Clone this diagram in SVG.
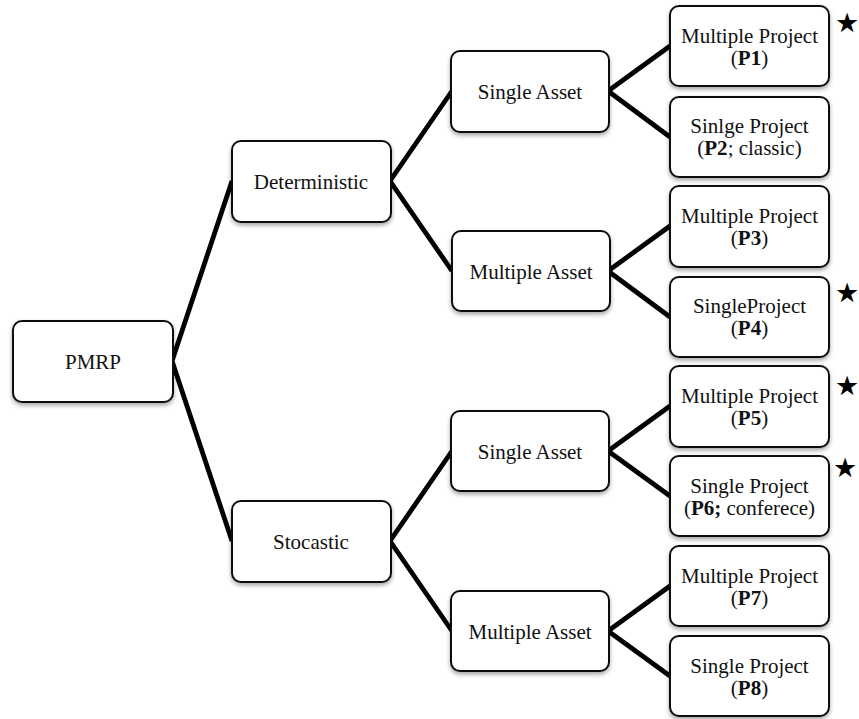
<svg xmlns="http://www.w3.org/2000/svg" width="859" height="719" viewBox="0 0 859 719" font-family="'Liberation Serif', 'Times New Roman', Times, 'DejaVu Serif', serif">
<defs>
<filter id="sh" x="-10%" y="-10%" width="120%" height="130%">
<feDropShadow dx="0" dy="2.5" stdDeviation="2" flood-color="#000" flood-opacity="0.35"/>
</filter>
<style>
.box{fill:#fff;stroke:#111;stroke-width:2;filter:url(#sh)}
.t{font-size:21px;fill:#111;text-anchor:middle}
.b{font-weight:bold}
.c{stroke:#000;stroke-width:4.8;fill:none;stroke-linejoin:miter;stroke-linecap:butt}
.star{font-family:"DejaVu Sans",sans-serif;font-size:27px;fill:#000;text-anchor:middle}
</style>
</defs>
<rect width="859" height="719" fill="#fff"/>
<g id="connectors">
<polyline class="c" points="232,181 172,361 232,541"/>
<polyline class="c" points="452,91 390,181 452,271"/>
<polyline class="c" points="452,451 390,541 452,631"/>
<polyline class="c" points="670,46 608,91 670,137"/>
<polyline class="c" points="670,226 608,271 670,317"/>
<polyline class="c" points="670,406 608,451 670,496"/>
<polyline class="c" points="670,586 608,631 670,676"/>
</g>
<g id="pmrp"><rect class="box" x="13" y="321" width="160" height="81" rx="9"/><text class="t" x="93" y="369">PMRP</text></g>
<g id="deterministic"><rect class="box" x="232" y="141" width="159" height="81" rx="9"/><text class="t" x="311" y="189">Deterministic</text></g>
<g id="stocastic"><rect class="box" x="232" y="501" width="159" height="81" rx="9"/><text class="t" x="311" y="549">Stocastic</text></g>
<g id="det-single-asset"><rect class="box" x="451" y="51" width="158" height="81" rx="9"/><text class="t" x="530" y="99">Single Asset</text></g>
<g id="det-multiple-asset"><rect class="box" x="452" y="231" width="158" height="80" rx="9"/><text class="t" x="531" y="279">Multiple Asset</text></g>
<g id="sto-single-asset"><rect class="box" x="451" y="411" width="158" height="80" rx="9"/><text class="t" x="530" y="459">Single Asset</text></g>
<g id="sto-multiple-asset"><rect class="box" x="451" y="591" width="158" height="80" rx="9"/><text class="t" x="530" y="639">Multiple Asset</text></g>
<g id="p1"><rect class="box" x="670" y="6" width="159" height="80" rx="9"/><text class="t" x="749.5" y="43">Multiple Project</text><text class="t" x="749.5" y="65">(<tspan class="b">P1</tspan>)</text></g>
<g id="p2"><rect class="box" x="670" y="97" width="159" height="80" rx="9"/><text class="t" x="749.5" y="133">Sinlge Project</text><text class="t" x="749.5" y="155">(<tspan class="b">P2</tspan>; classic)</text></g>
<g id="p3"><rect class="box" x="670" y="186" width="159" height="81" rx="9"/><text class="t" x="749.5" y="223">Multiple Project</text><text class="t" x="749.5" y="245">(<tspan class="b">P3</tspan>)</text></g>
<g id="p4"><rect class="box" x="670" y="277" width="159" height="80" rx="9"/><text class="t" x="749.5" y="313">SingleProject</text><text class="t" x="749.5" y="335">(<tspan class="b">P4</tspan>)</text></g>
<g id="p5"><rect class="box" x="670" y="366" width="159" height="81" rx="9"/><text class="t" x="749.5" y="403">Multiple Project</text><text class="t" x="749.5" y="425">(<tspan class="b">P5</tspan>)</text></g>
<g id="p6"><rect class="box" x="670" y="456" width="159" height="80" rx="9"/><text class="t" x="749.5" y="493">Single Project</text><text class="t" x="749.5" y="515">(<tspan class="b">P6;</tspan> conferece)</text></g>
<g id="p7"><rect class="box" x="670" y="546" width="159" height="80" rx="9"/><text class="t" x="749.5" y="583">Multiple Project</text><text class="t" x="749.5" y="605">(<tspan class="b">P7</tspan>)</text></g>
<g id="p8"><rect class="box" x="670" y="636" width="159" height="80" rx="9"/><text class="t" x="749.5" y="673">Single Project</text><text class="t" x="749.5" y="695">(<tspan class="b">P8</tspan>)</text></g>
<g id="stars">
<text class="star" x="847" y="32">★</text>
<text class="star" x="847" y="302">★</text>
<text class="star" x="847" y="395">★</text>
<text class="star" x="845" y="477">★</text>
</g>
</svg>
